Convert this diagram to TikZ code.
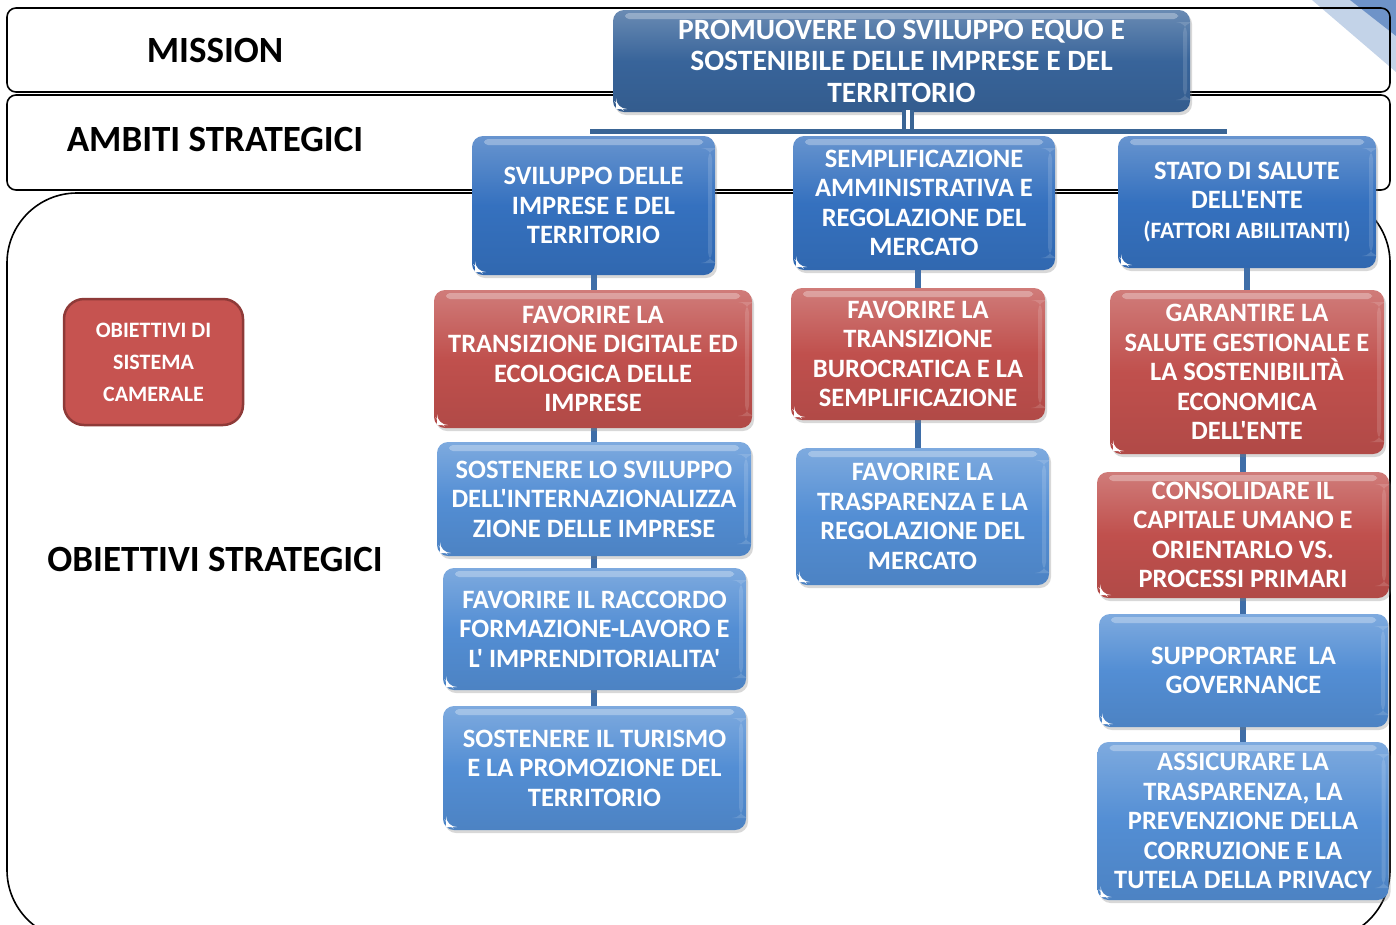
\documentclass[tikz,border=0pt]{standalone}
\usepackage{fontspec}
\setmainfont{Carlito}[Ligatures=TeXOff]
\usetikzlibrary{shadows}

\definecolor{missionblue}{HTML}{38649A}
\definecolor{ambitblue}{HTML}{3571BF}
\definecolor{objblue}{HTML}{538ED4}
\definecolor{objred}{HTML}{C0504D}
\definecolor{legendred}{HTML}{C65350}
\definecolor{legendedge}{HTML}{8E3A38}
\definecolor{linkblue}{HTML}{3F6EA8}
\definecolor{busblue}{HTML}{3A6595}
\definecolor{decolight}{HTML}{C3D3E8}
\definecolor{decodark}{HTML}{6E93C8}

\tikzset{
  gloss/.style={draw=none, rounded corners=11pt, text=white, align=center,
    inner sep=3pt, font=\bfseries\fontsize{26.5}{29.5}\selectfont,
    top color=#1!75!white, bottom color=#1!92!black, middle color=#1,
    drop shadow={shadow xshift=2pt, shadow yshift=-3pt, opacity=0.3},
    path picture={
      \fill[white, opacity=0.3, rounded corners=4pt]
        ([xshift=12pt,yshift=-3pt]path picture bounding box.north west)
        rectangle ([xshift=-12pt,yshift=-9pt]path picture bounding box.north east);
      \fill[white, opacity=0.14]
        ([xshift=-7pt,yshift=-12pt]path picture bounding box.north east)
        rectangle ([xshift=-3pt,yshift=12pt]path picture bounding box.south east);
      \fill[white]
        ([xshift=3pt,yshift=3pt]path picture bounding box.south west)
        -- ++(6pt,0pt) -- ++(-6pt,6pt) -- cycle;
    }},
  boxsize/.style n args={2}{minimum width=#1pt, minimum height=#2pt},
  band/.style={draw=black, line width=1.6pt, rounded corners=9pt},
  rowlabel/.style={font=\bfseries\fontsize{37}{40}\selectfont, text=black},
  link/.style={draw=linkblue, line width=6pt},
}

\begin{document}
\begin{tikzpicture}[x=1pt, y=-1pt]
\useasboundingbox (0,0) rectangle (1396,924);
\clip (0,0) rectangle (1396,924);
\fill[white] (0,0) rectangle (1396,924);

% corner ornament
\fill[decolight] (1312,0) -- (1396,0) -- (1396,72) -- cycle;
\fill[decodark] (1350,0) -- (1396,0) -- (1396,36) -- cycle;

% row frames
\draw[band] (7,8) rectangle (1390,92);
\draw[band] (7,95) rectangle (1390,190);
\draw[draw=black, line width=1.6pt, rounded corners=70pt] (7,193) rectangle (1390,940);

% row labels
\node[rowlabel] (lmission) at (215,50) {MISSION};
\node[rowlabel] (lambiti) at (215,139) {AMBITI STRATEGICI};
\node[rowlabel] (lobiettivi) at (215,559) {OBIETTIVI STRATEGICI};

% legend
\node[draw=legendedge, line width=2.5pt, fill=legendred, rounded corners=20pt,
      boxsize={179}{126}, text=white, align=center,
      font=\bfseries\fontsize{22}{32}\selectfont] (legend) at (153.5,362)
  {OBIETTIVI DI\\SISTEMA\\CAMERALE};

% bus between the mission and the strategic areas
\coordinate (busL) at (590,131);
\coordinate (busR) at (1227,131);
\coordinate (mtap) at (908,110);

\node[gloss=missionblue, boxsize={577}{102}, font=\bfseries\fontsize{29.5}{31.5}\selectfont]
  (mission) at (901.5,61)
  {PROMUOVERE LO SVILUPPO EQUO E\\SOSTENIBILE DELLE IMPRESE E DEL\\TERRITORIO};

\draw[busblue, line width=4pt, double=white, double distance=3.5pt]
  (mtap) -- (mtap |- busL);
\draw[busblue, line width=5pt] (busL) -- (busR);

% ambiti strategici
\node[gloss=ambitblue, boxsize={243}{139}] (a1) at (593.5,205.5)
  {SVILUPPO DELLE\\IMPRESE E DEL\\TERRITORIO};
\node[gloss=ambitblue, boxsize={262}{134}] (a2) at (924,203)
  {SEMPLIFICAZIONE\\AMMINISTRATIVA E\\REGOLAZIONE DEL\\MERCATO};
\node[gloss=ambitblue, boxsize={258}{132}] (a3) at (1247,202)
  {STATO DI SALUTE\\DELL'ENTE\\{\fontsize{23.5}{28}\selectfont(FATTORI ABILITANTI)}};

% centres of the objective boxes
\coordinate (r1p) at (593,359);
\coordinate (b1p) at (594,499);
\coordinate (b2p) at (594.5,629);
\coordinate (b3p) at (594.5,768);
\coordinate (r2p) at (918,354);
\coordinate (b4p) at (922.5,516.5);
\coordinate (r3p) at (1247,372);
\coordinate (r4p) at (1243,535);
\coordinate (b5p) at (1243.5,670.5);
\coordinate (b6p) at (1243,821);

% column links, laid under the objective boxes
\draw[link] (a1.south) -- (a1.south |- b3p);
\draw[link] (a2.south -| r2p) -- (r2p |- b4p);
\draw[link] (a3.south) -- (a3.south |- r3p);
\draw[link] (r4p |- r3p) -- (b6p);

% obiettivi strategici
\node[gloss=objred, boxsize={318}{138}] (r1) at (r1p)
  {FAVORIRE LA\\TRANSIZIONE DIGITALE ED\\ECOLOGICA DELLE\\IMPRESE};
\node[gloss=objblue, boxsize={314}{114}] (b1) at (b1p)
  {SOSTENERE LO SVILUPPO\\DELL'INTERNAZIONALIZZA\\ZIONE DELLE IMPRESE};
\node[gloss=objblue, boxsize={303}{122}] (b2) at (b2p)
  {FAVORIRE IL RACCORDO\\FORMAZIONE-LAVORO E\\L' IMPRENDITORIALITA'};
\node[gloss=objblue, boxsize={303}{124}] (b3) at (b3p)
  {SOSTENERE IL TURISMO\\E LA PROMOZIONE DEL\\TERRITORIO};

\node[gloss=objred, boxsize={254}{132}] (r2) at (r2p)
  {FAVORIRE LA\\TRANSIZIONE\\BUROCRATICA E LA\\SEMPLIFICAZIONE};
\node[gloss=objblue, boxsize={253}{137}] (b4) at (b4p)
  {FAVORIRE LA\\TRASPARENZA E LA\\REGOLAZIONE DEL\\MERCATO};

\node[gloss=objred, boxsize={274}{164}] (r3) at (r3p)
  {GARANTIRE LA\\SALUTE GESTIONALE E\\LA SOSTENIBILITÀ\\ECONOMICA\\DELL'ENTE};
\node[gloss=objred, boxsize={292}{126}] (r4) at (r4p)
  {CONSOLIDARE IL\\CAPITALE UMANO E\\ORIENTARLO VS.\\PROCESSI PRIMARI};
\node[gloss=objblue, boxsize={289}{113}] (b5) at (b5p)
  {SUPPORTARE~ LA\\GOVERNANCE};
\node[gloss=objblue, boxsize={291}{158}] (b6) at (b6p)
  {ASSICURARE LA\\TRASPARENZA, LA\\PREVENZIONE DELLA\\CORRUZIONE E LA\\TUTELA DELLA PRIVACY};
\end{tikzpicture}
\end{document}
